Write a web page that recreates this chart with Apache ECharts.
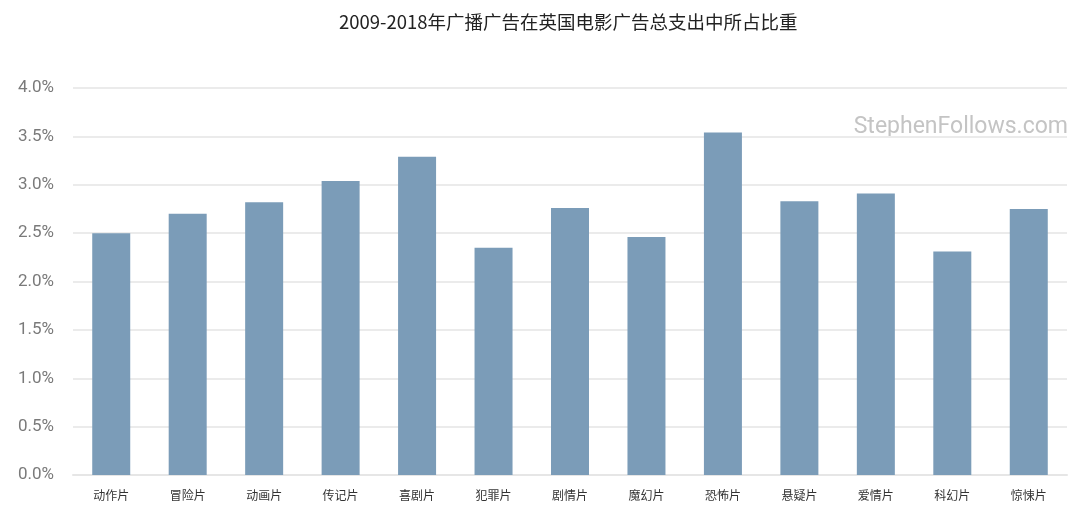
<!DOCTYPE html>
<html><head><meta charset="utf-8">
<script src="https://cdn.jsdelivr.net/npm/echarts@6/dist/echarts.min.js"></script>
<style>html,body{margin:0;padding:0;background:#fff}#c{width:1080px;height:514px}</style>
</head><body><div id="c"></div>
<script>
const titleText = '2009-2018年广播广告在英国电影广告总支出中所占比重';
const categories = ['动作片','冒险片','动画片','传记片','喜剧片','犯罪片','剧情片','魔幻片','恐怖片','悬疑片','爱情片','科幻片','惊悚片'];
const values = [2.50, 2.70, 2.82, 3.04, 3.29, 2.35, 2.76, 2.46, 3.54, 2.83, 2.91, 2.31, 2.75];
const watermark = 'StephenFollows.com';

const chart = echarts.init(document.getElementById('c'));
chart.setOption({
  animation: false,
  backgroundColor: '#fff',
  title: {
    text: titleText, left: 334, top: 8,
    textStyle: {fontFamily: 'Noto Sans CJK SC', fontSize: 18.5, fontWeight: 'normal', color: '#222'}
  },
  graphic: [{
    type: 'text', right: 12, top: 116,
    style: {text: watermark, fill: '#c4c4c4', fontFamily: 'Roboto', fontSize: 23}
  }],
  grid: {left: 73, right: 13, top: 88, bottom: 39},
  xAxis: {
    type: 'category', data: categories,
    axisLine: {show: true, lineStyle: {color: '#e6e6e6', width: 2}},
    axisTick: {show: false},
    axisLabel: {color: '#333', fontSize: 12, fontFamily: 'Noto Sans CJK SC', margin: 14}
  },
  yAxis: {
    type: 'value', min: 0, max: 4, interval: 0.5,
    axisLine: {show: false}, axisTick: {show: false},
    splitLine: {lineStyle: {color: '#ebebeb', width: 2}},
    axisLabel: {color: '#7a7a7a', fontSize: 17, fontFamily: 'Roboto', margin: 19,
      formatter: v => v.toFixed(1) + '%'}
  },
  series: [{
    type: 'bar', data: values, barWidth: 38,
    itemStyle: {color: '#7b9cb8'}
  }]
});
</script></body></html>
